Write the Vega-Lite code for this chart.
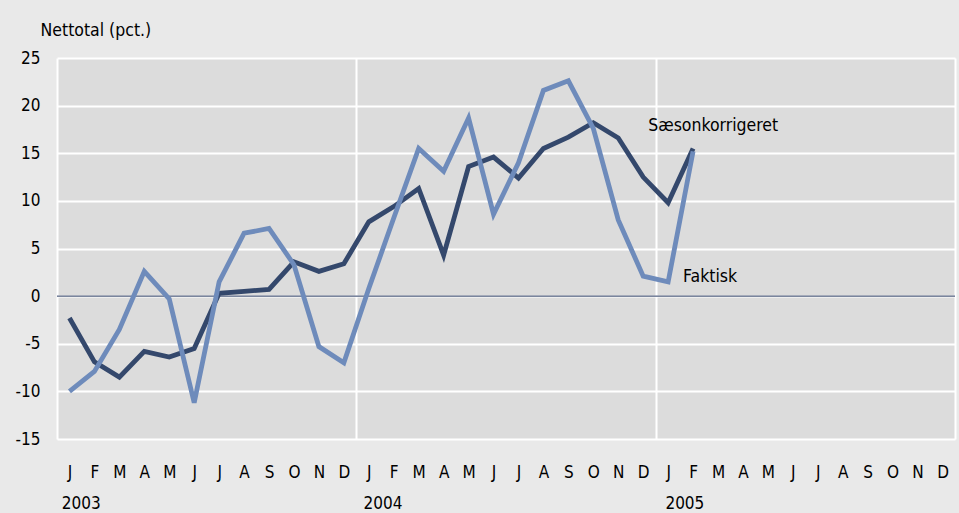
{
  "$schema": "https://vega.github.io/schema/vega-lite/v6.json",
  "width": 898,
  "height": 381,
  "autosize": {"type": "none"},
  "padding": {"left": 57, "top": 58, "right": 4, "bottom": 74},
  "background": "#e9e9e9",
  "config": {
    "view": {"fill": "#dcdcdc", "stroke": null},
    "font": "DejaVu Sans Condensed, Liberation Sans Narrow, sans-serif",
    "text": {"font": "DejaVu Sans Condensed, Liberation Sans Narrow, sans-serif"}
  },
  "datasets": {
    "series": [
      {"i": 0, "s": "Sæsonkorrigeret", "v": -2.3},
      {"i": 1, "s": "Sæsonkorrigeret", "v": -6.9},
      {"i": 2, "s": "Sæsonkorrigeret", "v": -8.5},
      {"i": 3, "s": "Sæsonkorrigeret", "v": -5.8},
      {"i": 4, "s": "Sæsonkorrigeret", "v": -6.4},
      {"i": 5, "s": "Sæsonkorrigeret", "v": -5.5},
      {"i": 6, "s": "Sæsonkorrigeret", "v": 0.3},
      {"i": 7, "s": "Sæsonkorrigeret", "v": 0.5},
      {"i": 8, "s": "Sæsonkorrigeret", "v": 0.7},
      {"i": 9, "s": "Sæsonkorrigeret", "v": 3.6},
      {"i": 10, "s": "Sæsonkorrigeret", "v": 2.6},
      {"i": 11, "s": "Sæsonkorrigeret", "v": 3.4},
      {"i": 12, "s": "Sæsonkorrigeret", "v": 7.8},
      {"i": 13, "s": "Sæsonkorrigeret", "v": 9.4},
      {"i": 14, "s": "Sæsonkorrigeret", "v": 11.3},
      {"i": 15, "s": "Sæsonkorrigeret", "v": 4.3},
      {"i": 16, "s": "Sæsonkorrigeret", "v": 13.6},
      {"i": 17, "s": "Sæsonkorrigeret", "v": 14.6},
      {"i": 18, "s": "Sæsonkorrigeret", "v": 12.4},
      {"i": 19, "s": "Sæsonkorrigeret", "v": 15.5},
      {"i": 20, "s": "Sæsonkorrigeret", "v": 16.7},
      {"i": 21, "s": "Sæsonkorrigeret", "v": 18.2},
      {"i": 22, "s": "Sæsonkorrigeret", "v": 16.6},
      {"i": 23, "s": "Sæsonkorrigeret", "v": 12.5},
      {"i": 24, "s": "Sæsonkorrigeret", "v": 9.8},
      {"i": 25, "s": "Sæsonkorrigeret", "v": 15.5},
      {"i": 0, "s": "Faktisk", "v": -10.0},
      {"i": 1, "s": "Faktisk", "v": -7.9},
      {"i": 2, "s": "Faktisk", "v": -3.5},
      {"i": 3, "s": "Faktisk", "v": 2.6},
      {"i": 4, "s": "Faktisk", "v": -0.3},
      {"i": 5, "s": "Faktisk", "v": -11.2},
      {"i": 6, "s": "Faktisk", "v": 1.5},
      {"i": 7, "s": "Faktisk", "v": 6.6},
      {"i": 8, "s": "Faktisk", "v": 7.1},
      {"i": 9, "s": "Faktisk", "v": 3.3},
      {"i": 10, "s": "Faktisk", "v": -5.3},
      {"i": 11, "s": "Faktisk", "v": -7.0},
      {"i": 12, "s": "Faktisk", "v": 0.8},
      {"i": 13, "s": "Faktisk", "v": 8.2},
      {"i": 14, "s": "Faktisk", "v": 15.5},
      {"i": 15, "s": "Faktisk", "v": 13.1},
      {"i": 16, "s": "Faktisk", "v": 18.7},
      {"i": 17, "s": "Faktisk", "v": 8.6},
      {"i": 18, "s": "Faktisk", "v": 14.0},
      {"i": 19, "s": "Faktisk", "v": 21.6},
      {"i": 20, "s": "Faktisk", "v": 22.6},
      {"i": 21, "s": "Faktisk", "v": 17.6},
      {"i": 22, "s": "Faktisk", "v": 8.0},
      {"i": 23, "s": "Faktisk", "v": 2.1},
      {"i": 24, "s": "Faktisk", "v": 1.5},
      {"i": 25, "s": "Faktisk", "v": 15.2}
    ],
    "labels": [
      {"i": 23.2, "v": 17.9, "label": "Sæsonkorrigeret"},
      {"i": 24.6, "v": 2.0, "label": "Faktisk"}
    ],
    "zero": [{"v": 0}]
  },
  "layer": [
    {
      "data": {"name": "zero"},
      "mark": {"type": "rule", "color": "#2b3d64", "strokeWidth": 1},
      "encoding": {
        "y": {
          "field": "v",
          "type": "quantitative",
          "scale": {"domain": [-15, 25]},
          "axis": {
            "values": [-15, -10, -5, 0, 5, 10, 15, 20, 25],
            "labelExpr": "'' + datum.value",
            "grid": true,
            "gridColor": "#ffffff",
            "gridWidth": 2,
            "gridOpacity": 1,
            "domain": false,
            "ticks": false,
            "labelPadding": 17,
            "labelFontSize": 17,
            "labelColor": "#000000",
            "labelFont": "DejaVu Sans Condensed, Liberation Sans Narrow, sans-serif",
            "title": "Nettotal (pct.)",
            "titleAngle": 0,
            "titleAlign": "left",
            "titleBaseline": "middle",
            "titleX": -17,
            "titleY": -28,
            "titleFontSize": 17.5,
            "titleFontWeight": "normal",
            "titleColor": "#000000",
            "titleFont": "DejaVu Sans Condensed, Liberation Sans Narrow, sans-serif"
          }
        }
      }
    },
    {
      "data": {"name": "series"},
      "mark": {"type": "line", "opacity": 0},
      "encoding": {
        "x": {
          "field": "i",
          "type": "quantitative",
          "scale": {"domain": [-0.5, 35.5], "nice": false, "zero": false},
          "axis": {
            "orient": "bottom",
            "values": [-0.5, 11.5, 23.5, 35.5],
            "grid": true,
            "gridColor": "#ffffff",
            "gridWidth": 2,
            "gridOpacity": 1,
            "domain": false,
            "ticks": false,
            "labels": false,
            "title": null
          }
        },
        "y": {"field": "v", "type": "quantitative"},
        "detail": {"field": "s"}
      }
    },
    {
      "data": {"name": "series"},
      "mark": {"type": "line", "strokeWidth": 4.8, "strokeJoin": "miter"},
      "encoding": {
        "x": {
          "field": "i",
          "type": "quantitative",
          "axis": {
            "orient": "bottom",
            "values": [0,1,2,3,4,5,6,7,8,9,10,11,12,13,14,15,16,17,18,19,20,21,22,23,24,25,26,27,28,29,30,31,32,33,34,35],
            "labelExpr": "substring('JFMAMJJASOND', datum.value % 12, datum.value % 12 + 1)",
            "grid": false,
            "domain": false,
            "ticks": false,
            "labelPadding": 25,
            "labelFontSize": 17,
            "labelColor": "#000000",
            "labelFont": "DejaVu Sans Condensed, Liberation Sans Narrow, sans-serif",
            "labelOverlap": false,
            "labelFlush": false,
            "title": null
          }
        },
        "y": {"field": "v", "type": "quantitative"},
        "color": {
          "field": "s",
          "type": "nominal",
          "scale": {"domain": ["Sæsonkorrigeret", "Faktisk"], "range": ["#34486c", "#6e8bbb"]},
          "legend": null
        },
        "order": {"field": "i"}
      }
    },
    {
      "data": {"name": "series"},
      "mark": {"type": "line", "opacity": 0},
      "encoding": {
        "x": {
          "field": "i",
          "type": "quantitative",
          "axis": {
            "orient": "bottom",
            "values": [0.45, 12.55, 24.65],
            "labelExpr": "datum.value < 1 ? '2003' : datum.value < 13 ? '2004' : '2005'",
            "grid": false,
            "domain": false,
            "ticks": false,
            "labelAlign": "center",
            "labelPadding": 56,
            "labelFontSize": 17,
            "labelColor": "#000000",
            "labelFont": "DejaVu Sans Condensed, Liberation Sans Narrow, sans-serif",
            "labelOverlap": false,
            "labelFlush": false,
            "title": null
          }
        },
        "y": {"field": "v", "type": "quantitative"},
        "detail": {"field": "s"}
      }
    },
    {
      "data": {"name": "labels"},
      "mark": {"type": "text", "align": "left", "baseline": "middle", "fontSize": 17.5, "color": "#000000"},
      "encoding": {
        "x": {"field": "i", "type": "quantitative", "axis": null},
        "y": {"field": "v", "type": "quantitative"},
        "text": {"field": "label"}
      }
    }
  ],
  "resolve": {"axis": {"x": "independent"}}
}
